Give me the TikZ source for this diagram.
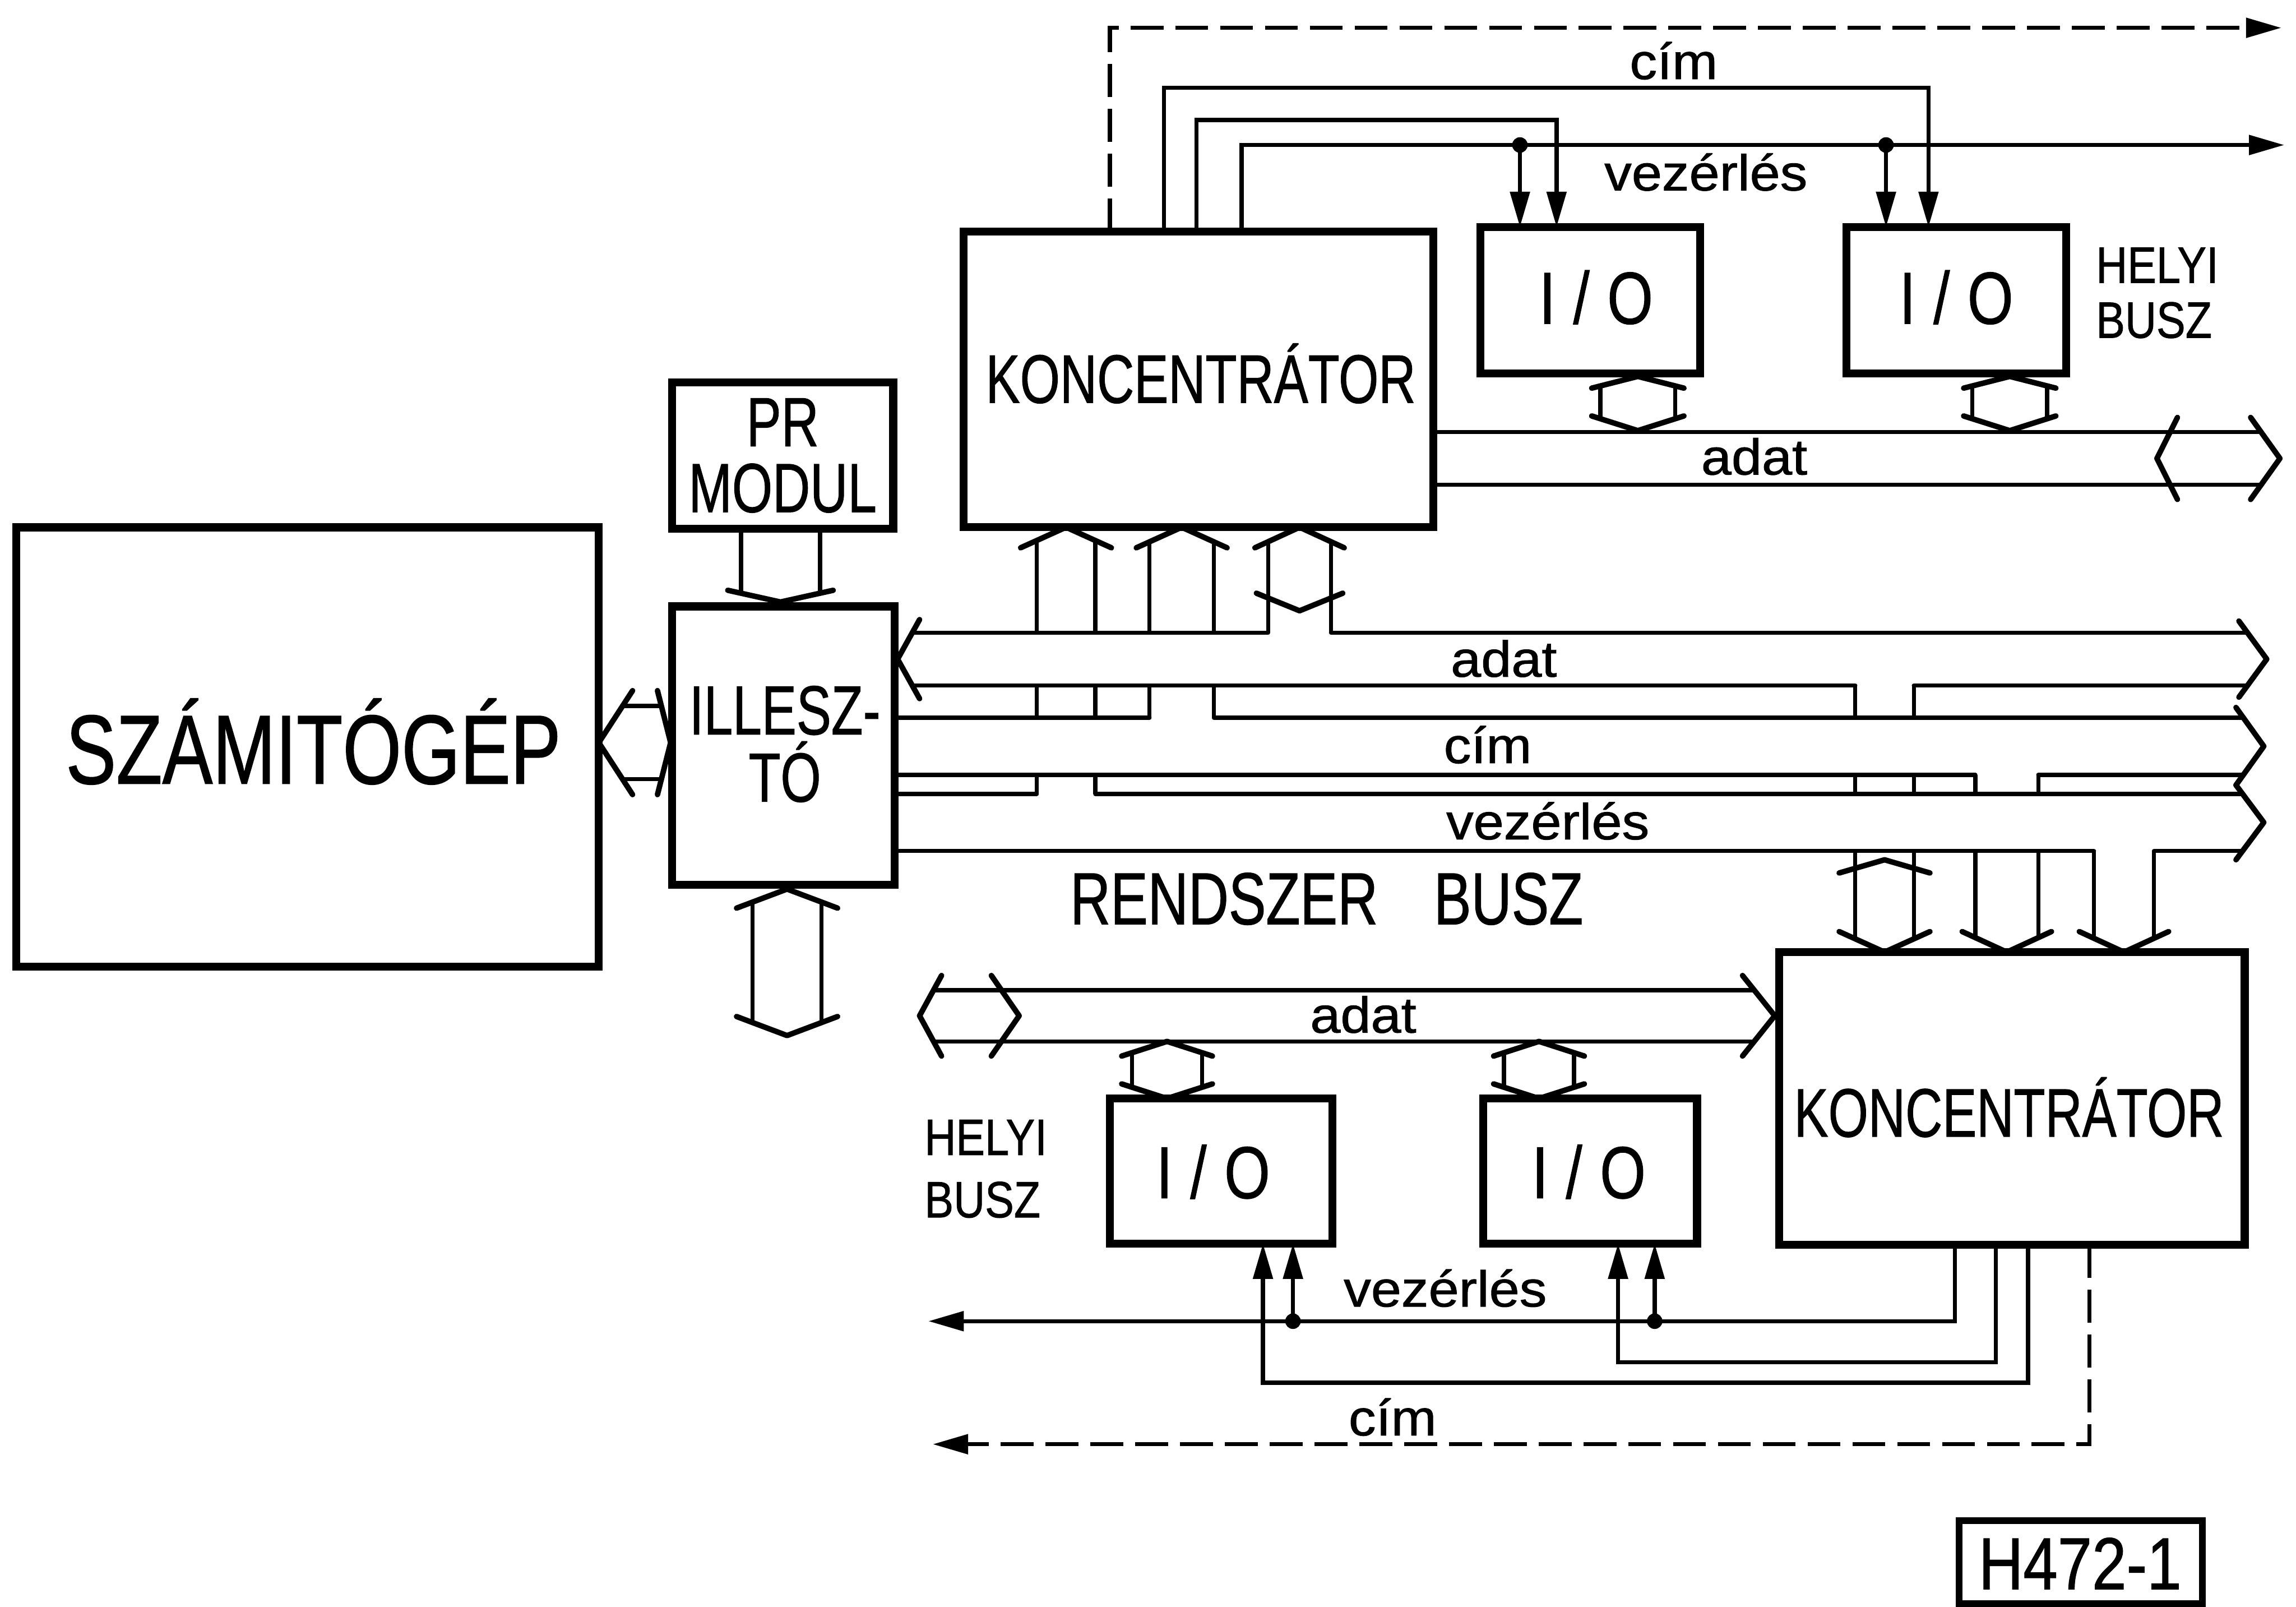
\documentclass[tikz,border=0pt]{standalone}
\usepackage{fontspec}
\setmainfont{Liberation Sans}[FakeBold=1.0]
\usepackage{graphicx}
\usetikzlibrary{arrows.meta}
\newcommand{\fsz}[2]{\fontsize{#1}{#2}\selectfont}
\newcommand{\sxx}[2]{\scalebox{#1}[1]{#2}}
\begin{document}
\begin{tikzpicture}[x=0.016cm,y=-0.016cm,
  box/.style={draw,line width=2.5pt,inner sep=0pt,outer sep=0pt,rectangle},
  ln/.style={line width=1.3pt,line cap=round,line join=round},
  chev/.style={line width=1.7pt,line cap=round,line join=round},
  ctl/.style={line width=1.3pt},
  tipa/.style={-{Triangle[length=11pt,width=6pt]}},
  dsh/.style={line width=1.3pt,dash pattern=on 0.36cm off 0.13cm},
  lbl/.style={inner sep=0pt,anchor=base,font={\fsz{15.7pt}{17pt}}},
  big/.style={inner sep=0pt,anchor=base},
  dot/.style={circle,fill,inner sep=0pt,minimum size=0.17cm},
]
\fill[white] (0,0) rectangle (1568,1097);
\useasboundingbox (0,0) rectangle (1568,1097);

% ---------------- boxes ----------------
\node[box,minimum width=6.368cm,minimum height=4.8cm] (szg) at (210,510) {};
\node[box,minimum width=2.416cm,minimum height=1.6cm] (pr) at (534.5,311) {};
\node[box,minimum width=2.432cm,minimum height=3.04cm] (ill) at (535,509) {};
\node[box,minimum width=5.136cm,minimum height=3.232cm] (k1) at (818.5,259) {};
\node[box,minimum width=2.4cm,minimum height=1.6cm] (io1) at (1086,205) {};
\node[box,minimum width=2.4cm,minimum height=1.6cm] (io2) at (1336,205) {};
\node[box,minimum width=5.088cm,minimum height=3.2cm] (k2) at (1374,750) {};
\node[box,minimum width=2.432cm,minimum height=1.584cm] (io3) at (834,799.5) {};
\node[box,minimum width=2.336cm,minimum height=1.584cm] (io4) at (1086,799.5) {};
\node[box,line width=2.1pt,minimum width=2.656cm,minimum height=0.912cm] (h472) at (1421,1066.5) {};

% ---------------- box texts ----------------
\node[big,font={\fsz{30.5pt}{30pt}}] (tszg) at (214,535) {\sxx{0.77}{SZÁMITÓGÉP}};
\node[inner sep=0pt,align=center,font={\fsz{21.6pt}{20.5pt}}] (tpr) at (534.5,311) {\sxx{0.75}{PR}\\\sxx{0.75}{MODUL}};
\node[inner sep=0pt,align=center,font={\fsz{21.6pt}{20.9pt}}] (till) at (536,508) {\sxx{0.75}{ILLESZ-}\\\sxx{0.75}{TÓ}};
\node[big,font={\fsz{21.3pt}{22pt}}] (tk1) at (820,275) {\sxx{0.75}{KONCENTRÁTOR}};
\node[big,font={\fsz{21.3pt}{22pt}}] (tk2) at (1372,776) {\sxx{0.75}{KONCENTRÁTOR}};
\node[big,font={\fsz{22.9pt}{23pt}}] (tio1) at (1090,221) {\sxx{0.8}{I\hspace{0.3em}/\hspace{0.3em}O}};
\node[big,font={\fsz{22.9pt}{23pt}}] (tio2) at (1336,221) {\sxx{0.8}{I\hspace{0.3em}/\hspace{0.3em}O}};
\node[big,font={\fsz{22.9pt}{23pt}}] (tio3) at (828.5,818) {\sxx{0.8}{I\hspace{0.3em}/\hspace{0.3em}O}};
\node[big,font={\fsz{22.9pt}{23pt}}] (tio4) at (1085,818) {\sxx{0.8}{I\hspace{0.3em}/\hspace{0.3em}O}};
\node[big,font={\fsz{22.9pt}{23pt}}] (th472) at (1420.5,1085) {\sxx{0.84}{H472-1}};

% ---------------- bus taps to upper koncentrator ----------------
\draw[ln] (708,542) -- (708,369);
\draw[ln] (748,542) -- (748,369);
\draw[chev] (697,374) -- (728,0 |- k1.south) -- (759,374);
\draw[ln] (785,490) -- (785,369.5);
\draw[ln] (829,490) -- (829,369.5);
\draw[chev] (776,374) -- (807,0 |- k1.south) -- (838,374);
\draw[ln] (866,432) -- (866,369.5);
\draw[ln] (909,432) -- (909,369.5);
\draw[chev] (857,374) -- (887.5,0 |- k1.south) -- (918,374);
\draw[chev] (858,405) -- (887.5,417) -- (917,405);

% ---------------- bus taps to lower koncentrator ----------------
\draw[ln] (1267,468) -- (1267,640);
\draw[ln] (1307,468) -- (1307,640);
\draw[chev] (1256,596) -- (1287,587) -- (1318,596);
\draw[chev] (1256,636) -- (1287,0 |- k2.north) -- (1318,636);
\draw[ln] (1349,529) -- (1349,640);
\draw[ln] (1392,529) -- (1392,640);
\draw[chev] (1340,636) -- (1370.5,0 |- k2.north) -- (1401,636);
\draw[ln] (1430,581) -- (1430,640);
\draw[ln] (1471,581) -- (1471,640);
\draw[chev] (1420,636) -- (1450.5,0 |- k2.north) -- (1481,636);

% ---------------- system bus ----------------
\fill[white] (630,432) rectangle (1525,468);
\fill[white] (630,490) rectangle (1525,529);
\fill[white] (630,542) rectangle (1525,581);
% adat
\draw[ln] (623,432) -- (866,432);
\draw[ln] (909,432) -- (1535,432);
\draw[ln] (623,468) -- (1267,468);
\draw[ln] (1307,468) -- (1535,468);
\draw[chev] (628,423) -- (613,450) -- (628,477);
\draw[chev] (1529,424) -- (1548,450) -- (1529,476);
% cim
\draw[ln] (ill.east |- 0,490) -- (785,490);
\draw[ln] (829,490) -- (1532,490);
\draw[ln] (ill.east |- 0,529) -- (1349,529);
\draw[ln] (1392,529) -- (1532,529);
\draw[chev] (1527,483) -- (1546,509.5) -- (1527,536);
% vezerles
\draw[ln] (ill.east |- 0,542) -- (708,542);
\draw[ln] (748,542) -- (1532,542);
\draw[ln] (ill.east |- 0,581) -- (1430,581);
\draw[ln] (1471,581) -- (1532,581);
\draw[chev] (1527,536) -- (1546,561.5) -- (1527,587);

\node[lbl] (lada) at (1027,462) {\sxx{1.08}{adat}};
\node[lbl] (lcim) at (1016,521) {\sxx{1.08}{cím}};
\node[lbl] (lvez) at (1057,573) {\sxx{1.08}{vezérlés}};
\node[big,font={\fsz{22.9pt}{23pt}}] (trb) at (906,631) {\sxx{0.76}{RENDSZER\hspace{1.0em}BUSZ}};

% ---------------- szamitogep <-> illeszto ----------------
\draw[ln] (426,482) -- (451.5,482);
\draw[ln] (426,532) -- (451.5,532);
\draw[chev] (432,471.5) -- (szg.east |- 0,507) -- (432,542.5);
\draw[chev] (449,471.5) -- (458,507) -- (449,542.5);

% ---------------- PR modul -> illeszto ----------------
\draw[ln] (506,0 |- pr.south) -- (506,405);
\draw[ln] (560,0 |- pr.south) -- (560,405);
\draw[chev] (497,403) -- (533,411) -- (569,403);

% ---------------- illeszto bottom ----------------
\draw[ln] (514,616) -- (514,698);
\draw[ln] (561,616) -- (561,698);
\draw[chev] (503,620) -- (537.5,607) -- (572,620);
\draw[chev] (503,694) -- (537.5,707) -- (572,694);

% ---------------- upper local bus ----------------
\draw[ln] (k1.east |- 0,295) -- (1544,295);
\draw[ln] (k1.east |- 0,331) -- (1544,331);
\draw[chev] (1537,285) -- (1557,313) -- (1537,341);
\draw[chev] (1487,285) -- (1473,313) -- (1487,341);
\node[lbl] (lada1) at (1198,324) {\sxx{1.08}{adat}};

\draw[ln] (1093,263.5) -- (1093,286);
\draw[ln] (1144,263.5) -- (1144,286);
\draw[chev] (1087,265) -- (1118.5,257) -- (1150,265);
\draw[chev] (1087,284) -- (1118.5,294) -- (1150,284);
\draw[ln] (1347,263.5) -- (1347,286);
\draw[ln] (1398,263.5) -- (1398,286);
\draw[chev] (1341,265) -- (1372.5,257) -- (1404,265);
\draw[chev] (1341,284) -- (1372.5,294) -- (1404,284);

\node[inner sep=0pt,anchor=west,align=left,font={\fsz{15.9pt}{17.1pt}}] (hb1) at (1431,200) {\sxx{0.85}{HELYI}\\\sxx{0.85}{BUSZ}};

% upper control lines
\draw[dsh,tipa] (758,0 |- k1.north) -- (758,19) -- (1558,19);
\draw[ctl,tipa] (795,0 |- k1.north) -- (795,60) -- (1317,60) -- (1317,0 |- io2.north);
\draw[ctl,tipa] (817,0 |- k1.north) -- (817,82) -- (1063,82) -- (1063,0 |- io1.north);
\draw[ctl,tipa] (848,0 |- k1.north) -- (848,99) -- (1560,99);
\node[dot] (d1) at (1038,99) {};
\node[dot] (d2) at (1288,99) {};
\draw[ctl,tipa] (d1.center) -- (d1.center |- io1.north);
\draw[ctl,tipa] (d2.center) -- (d2.center |- io2.north);
\node[lbl] (lcim1) at (1143,54) {\sxx{1.08}{cím}};
\node[lbl] (lvez1) at (1165,130) {\sxx{1.08}{vezérlés}};

% ---------------- lower local bus ----------------
\draw[ln] (637.5,676) -- (1198,676);
\draw[ln] (637.5,711) -- (1198,711);
\draw[chev] (643,666) -- (628,693.5) -- (643,721);
\draw[chev] (677,666) -- (696,693.5) -- (677,721);
\draw[chev] (1190,666) -- (1212,693.5) -- (1190,721);
\node[lbl] (lada2) at (931,705) {\sxx{1.08}{adat}};

\draw[ln] (773,718.5) -- (773,742.5);
\draw[ln] (821,718.5) -- (821,742.5);
\draw[chev] (766,721) -- (797,711) -- (828,721);
\draw[chev] (766,740) -- (797,750) -- (828,740);
\draw[ln] (1027,718.5) -- (1027,742.5);
\draw[ln] (1075,718.5) -- (1075,742.5);
\draw[chev] (1020,721) -- (1051,711) -- (1082,721);
\draw[chev] (1020,740) -- (1051,750) -- (1082,740);

\node[inner sep=0pt,anchor=west,align=left,font={\fsz{15.9pt}{19.4pt}}] (hb2) at (631,798) {\sxx{0.85}{HELYI}\\\sxx{0.85}{BUSZ}};

% lower control lines
\draw[ctl,tipa] (1335,0 |- k2.south) -- (1335,902) -- (634,902);
\node[dot] (d3) at (883,902) {};
\node[dot] (d4) at (1130,902) {};
\draw[ctl,tipa] (d3.center) -- (d3.center |- io3.south);
\draw[ctl,tipa] (d4.center) -- (d4.center |- io4.south);
\draw[ctl,tipa] (1363,0 |- k2.south) -- (1363,930) -- (1105,930) -- (1105,0 |- io4.south);
\draw[ctl,tipa] (1385,0 |- k2.south) -- (1385,944) -- (862.5,944) -- (862.5,0 |- io3.south);
\draw[dsh,tipa] (1427,0 |- k2.south) -- (1427,986) -- (637,986);
\node[lbl] (lvez2) at (987,892) {\sxx{1.08}{vezérlés}};
\node[lbl] (lcim2) at (951,980) {\sxx{1.08}{cím}};
\end{tikzpicture}
\end{document}
